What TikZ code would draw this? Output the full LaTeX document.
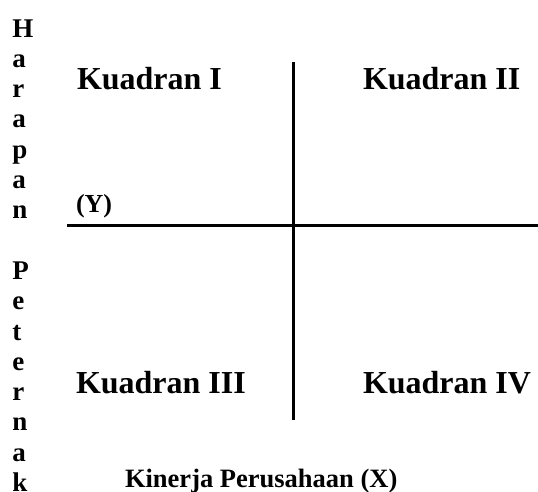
\documentclass[tikz,border=0pt]{standalone}
\usepackage{fontspec}
\setmainfont{Liberation Serif}
\begin{document}
\begin{tikzpicture}[x=1pt,y=-1pt,
  lbl/.style={anchor=base west,inner sep=0pt,outer sep=0pt,font=\bfseries},
  quad/.style={lbl,font=\fontsize{32}{36}\selectfont\bfseries},
  axislabel/.style={lbl,font=\fontsize{26.5}{30}\selectfont\bfseries},
  vletter/.style={lbl,font=\fontsize{27}{30}\selectfont\bfseries},
  axisline/.style={line width=3pt,black}]
  \useasboundingbox (0,0) rectangle (538,491);

  % vertical axis title, one letter per line
  \foreach \ch [count=\i] in {H,a,r,a,p,a,n,{},P,e,t,e,r,n,a,k}
    \node[vletter] (v\i) at (12.5,{37+(\i-1)*30.3}) {\ch};

  % axes
  \coordinate (xl) at (67,225.5);
  \coordinate (xr) at (538,225.5);
  \coordinate (yt) at (293.5,62);
  \coordinate (yb) at (293.5,420);
  \draw[axisline] (xl) -- (xr);
  \draw[axisline,line width=3.5pt] (yt) -- (yb);

  % quadrant labels
  \node[quad] (q1) at (77,89) {Kuadran I};
  \node[quad] (q2) at (363,89) {Kuadran II};
  \node[quad] (q3) at (76,393) {Kuadran III};
  \node[quad] (q4) at (363,393) {Kuadran IV};

  % axis labels
  \node[axislabel,font=\fontsize{26}{30}\selectfont\bfseries] (ylab) at (76,212) {(Y)};
  \node[axislabel] (xlab) at (125,487) {Kinerja Perusahaan (X)};
\end{tikzpicture}
\end{document}
